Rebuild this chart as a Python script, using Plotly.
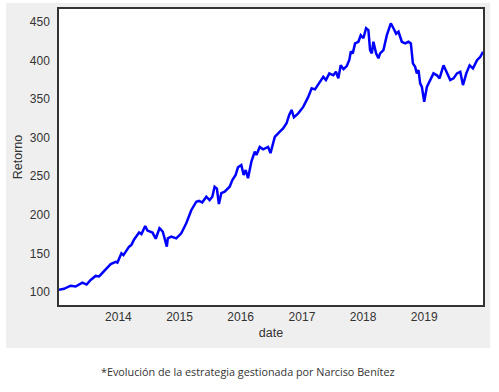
import pandas as pd
import plotly.graph_objects as go

# Decimal-year positions and values
years = [2013.028, 2013.110, 2013.218, 2013.300, 2013.410, 2013.480, 2013.546, 2013.628,
         2013.684, 2013.766, 2013.874, 2013.956, 2013.984, 2014.049, 2014.082, 2014.175,
         2014.213, 2014.257, 2014.339, 2014.377, 2014.438, 2014.475, 2014.557, 2014.611,
         2014.672, 2014.693, 2014.726, 2014.792, 2014.808, 2014.864, 2014.946, 2015.028,
         2015.110, 2015.192, 2015.274, 2015.316, 2015.372, 2015.438, 2015.492, 2015.536,
         2015.574, 2015.611, 2015.644, 2015.684, 2015.738, 2015.820, 2015.864, 2015.918,
         2015.956, 2016.011, 2016.049, 2016.082, 2016.120, 2016.175, 2016.230, 2016.257,
         2016.311, 2016.366, 2016.448, 2016.487, 2016.557, 2016.639, 2016.693, 2016.749,
         2016.792, 2016.831, 2016.869, 2016.939, 2017.021, 2017.103, 2017.159, 2017.213,
         2017.295, 2017.349, 2017.393, 2017.448, 2017.513, 2017.557, 2017.595, 2017.634,
         2017.680, 2017.733, 2017.775, 2017.800, 2017.831, 2017.869, 2017.923, 2017.962,
         2018.005, 2018.049, 2018.087, 2018.115, 2018.143, 2018.169, 2018.213, 2018.251,
         2018.279, 2018.333, 2018.389, 2018.454, 2018.497, 2018.541, 2018.579, 2018.634,
         2018.689, 2018.743, 2018.782, 2018.815, 2018.852, 2018.880, 2018.907, 2018.934,
         2018.962, 2019.000, 2019.044, 2019.098, 2019.152, 2019.208, 2019.251, 2019.316,
         2019.372, 2019.426, 2019.480, 2019.536, 2019.590, 2019.634, 2019.689, 2019.743,
         2019.798, 2019.864, 2019.918, 2019.962]
retorno = [102.6, 104.0, 108.0, 107.0, 112.0, 109.5, 115.5, 120.7,
           120.0, 127.0, 136.0, 139.0, 138.0, 150.0, 147.6, 158.7,
           161.0, 168.0, 177.0, 175.0, 185.5, 179.5, 177.0, 169.0,
           182.5, 181.0, 178.0, 158.7, 169.5, 171.7, 169.5, 176.0,
           189.0, 206.0, 217.0, 218.0, 216.0, 223.5, 219.0, 223.5,
           236.5, 234.0, 214.0, 228.0, 230.0, 236.5, 245.0, 251.7,
           261.6, 264.6, 251.7, 258.0, 247.4, 269.0, 282.0, 277.6,
           288.0, 285.0, 288.0, 280.0, 301.0, 307.8, 312.0, 318.7,
           329.5, 336.0, 326.5, 331.6, 340.0, 353.0, 364.0, 362.7,
           372.6, 379.0, 374.8, 383.5, 381.0, 385.6, 377.0, 394.0,
           389.0, 393.0, 401.0, 412.0, 409.4, 422.4, 424.5, 433.0,
           429.0, 442.0, 439.6, 413.7, 409.4, 424.5, 409.4, 403.0,
           409.4, 413.7, 433.0, 448.3, 442.0, 435.0, 437.5, 424.5,
           422.4, 424.5, 422.4, 396.5, 392.0, 383.5, 387.8, 370.5,
           366.0, 346.7, 366.0, 374.8, 383.5, 381.0, 377.0, 394.0,
           383.5, 374.8, 377.0, 383.5, 385.6, 368.3, 383.5, 394.0,
           390.0, 400.7, 405.0, 411.5]

y_ticks = [100, 150, 200, 250, 300, 350, 400, 450]
caption = "*Evolución de la estrategia gestionada por Narciso Benítez"


def to_date(d):
    y = int(d)
    a = pd.Timestamp(y, 1, 1)
    b = pd.Timestamp(y + 1, 1, 1)
    return a + (b - a) * (d - y)


dates = [to_date(d) for d in years]

fig = go.Figure()
fig.add_trace(go.Scatter(x=dates, y=retorno, mode="lines",
                         line=dict(color="#0000ff", width=2.5), showlegend=False))

fig.update_layout(
    width=499, height=392,
    margin=dict(l=59, r=16, t=9, b=87),
    paper_bgcolor="white", plot_bgcolor="white",
    font=dict(family="Liberation Sans, Arial, sans-serif", size=12, color="#333333"),
    xaxis=dict(range=[dates[0], dates[-1]], showgrid=False, dtick="M12", tickformat="%Y",
               ticks="", showline=True, mirror=True, linecolor="#333333", linewidth=1.5,
               zeroline=False, automargin=False, tickfont=dict(size=12, color="#333333"),
               title=dict(text="date", standoff=5, font=dict(size=12.5, color="#333333"))),
    yaxis=dict(range=[83, 467], showgrid=False, tickvals=y_ticks, ticks="",
               showline=True, mirror=True, linecolor="#333333", linewidth=1.5,
               zeroline=False, automargin=False, ticklabelstandoff=5,
               tickfont=dict(size=12, color="#333333"),
               title=dict(text="Retorno", standoff=4, font=dict(size=12.5, color="#333333"))),
    shapes=[dict(type="rect", xref="paper", yref="paper", x0=-0.125, x1=1.017,
                 y0=-0.145, y1=1.020, fillcolor="#efefef", line=dict(width=0), layer="below"),
            dict(type="rect", xref="paper", yref="paper", x0=0, x1=1,
                 y0=0, y1=1, fillcolor="white", line=dict(width=0), layer="below")],
    annotations=[dict(text=caption, xref="paper", yref="paper", x=0.446, y=-0.226,
                      showarrow=False, xanchor="center", yanchor="middle",
                      font=dict(family="Open Sans, Roboto, sans-serif", size=10.8, color="#333333"))],
)

fig.write_html("out.html", config={"displayModeBar": False},
               post_script="document.body.style.margin='0';")
